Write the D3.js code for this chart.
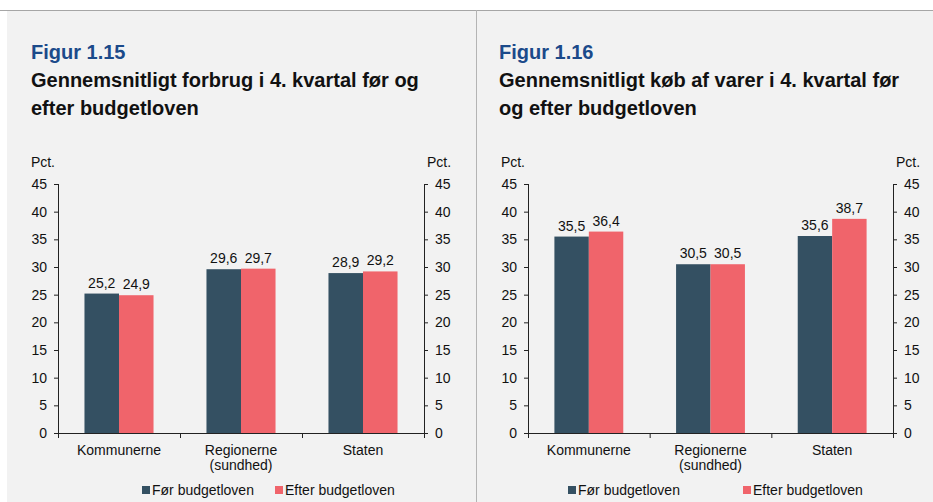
<!DOCTYPE html>
<html>
<head>
<meta charset="utf-8">
<script src="https://cdn.jsdelivr.net/npm/d3@7"></script>
<style>
  html, body { margin: 0; padding: 0; background: #ffffff; }
  svg { display: block; font-family: "Liberation Sans", Arial, sans-serif; }
</style>
</head>
<body>
<svg id="chart" width="933" height="502"></svg>
<script>
// ---- Data ----
const categories = ["Kommunerne", "Regionerne\n(sundhed)", "Staten"];
const seriesNames = ["Før budgetloven", "Efter budgetloven"];
const fig15Before = [25.2, 29.6, 28.9];
const fig15After  = [24.9, 29.7, 29.2];
const fig16Before = [35.5, 30.5, 35.6];
const fig16After  = [36.4, 30.5, 38.7];
const yTicks = [0, 5, 10, 15, 20, 25, 30, 35, 40, 45];
const fig15Label = "Figur 1.15";
const fig15Title = ["Gennemsnitligt forbrug i 4. kvartal før og", "efter budgetloven"];
const fig16Label = "Figur 1.16";
const fig16Title = ["Gennemsnitligt køb af varer i 4. kvartal før", "og efter budgetloven"];
const unitLabel = "Pct.";

// ---- Styles ----
const colors = ["#345062", "#F0646B"];
const svg = d3.select("#chart");

// background panels
svg.append("rect").attr("x", 7).attr("y", 10).attr("width", 926).attr("height", 492).attr("fill", "#f2f2f2");
svg.append("line").attr("x1", 0).attr("x2", 933).attr("y1", 10.5).attr("y2", 10.5).attr("stroke", "#a6a6a6").attr("stroke-width", 1);
svg.append("line").attr("x1", 476.5).attr("x2", 476.5).attr("y1", 10).attr("y2", 502).attr("stroke", "#b4b4b4").attr("stroke-width", 1);

function drawChart(cfg) {
  const g = svg.append("g");
  const x0 = cfg.left, x1 = cfg.right, yBase = 433, yTop = 184;

  // titles
  g.append("text").attr("x", cfg.titleX).attr("y", 59)
    .attr("font-size", 20).attr("font-weight", "bold").attr("fill", "#1b4a8a").text(cfg.label);
  cfg.title.forEach((t, i) => {
    g.append("text").attr("x", cfg.titleX).attr("y", 87 + i * 28)
      .attr("font-size", 20).attr("font-weight", "bold").attr("fill", "#111").text(t);
  });

  const y = d3.scaleLinear().domain([0, 45]).range([yBase, yTop]);
  const xb = d3.scaleBand().domain(categories).range([x0, x1]).padding(0);
  const bw = xb.bandwidth();
  const xs = d3.scaleBand().domain(seriesNames).range([bw * 0.217, bw * 0.783]).padding(0);

  // bars
  const data = categories.map((c, i) => ({ cat: c, vals: [cfg.before[i], cfg.after[i]] }));
  const groups = g.selectAll("g.grp").data(data).join("g").attr("class", "grp")
    .attr("transform", d => `translate(${xb(d.cat)},0)`);
  groups.selectAll("rect").data(d => d.vals.map((v, j) => ({ v, s: seriesNames[j], j })))
    .join("rect")
    .attr("x", d => xs(d.s)).attr("width", xs.bandwidth())
    .attr("y", d => y(d.v)).attr("height", d => y(0) - y(d.v))
    .attr("fill", d => colors[d.j]);
  groups.selectAll("text.val").data(d => d.vals.map((v, j) => ({ v, s: seriesNames[j] })))
    .join("text").attr("class", "val")
    .attr("x", d => xs(d.s) + xs.bandwidth() / 2).attr("y", d => y(d.v) - 6)
    .attr("text-anchor", "middle").attr("font-size", 14).attr("fill", "#111")
    .text(d => d3.format(".1f")(d.v).replace(".", ","));

  // left axis
  const axL = d3.axisLeft(y).tickValues(yTicks).tickSize(4).tickPadding(7).tickFormat(d3.format("d"));
  const gl = g.append("g").attr("transform", `translate(${x0},0)`).call(axL);
  // right axis
  const axR = d3.axisRight(y).tickValues(yTicks).tickSize(4).tickPadding(7).tickFormat(d3.format("d"));
  const gr = g.append("g").attr("transform", `translate(${x1},0)`).call(axR);
  [gl, gr].forEach(a => {
    a.selectAll(".tick line").attr("stroke", "#222");
    a.selectAll(".tick text").attr("font-size", 14).attr("fill", "#111")
      .attr("font-family", "Liberation Sans, Arial, sans-serif");
  });
  gl.select(".domain").remove();
  gr.select(".domain").remove();
  g.append("line").attr("x1", x0 + 0.5).attr("x2", x0 + 0.5).attr("y1", yTop).attr("y2", yBase + 5).attr("stroke", "#222");
  g.append("line").attr("x1", x1 + 0.5).attr("x2", x1 + 0.5).attr("y1", yTop).attr("y2", yBase + 5).attr("stroke", "#222");

  // bottom axis
  const axB = d3.axisBottom(xb).tickSize(0).tickFormat("");
  const gb = g.append("g").attr("transform", `translate(0,${yBase})`).call(axB);
  gb.select(".domain").remove();
  gb.selectAll(".tick").remove();
  const edges = categories.map(c => xb(c)).concat([x1]);
  g.selectAll("line.ctick").data(edges).join("line").attr("class", "ctick")
    .attr("x1", d => d + 0.5).attr("x2", d => d + 0.5).attr("y1", yBase).attr("y2", yBase + 5).attr("stroke", "#222");
  g.append("line").attr("x1", x0).attr("x2", x1 + 1).attr("y1", yBase + 0.5).attr("y2", yBase + 0.5).attr("stroke", "#222");

  // category labels
  categories.forEach(c => {
    const lines = c.split("\n");
    const t = g.append("text").attr("x", xb(c) + bw / 2).attr("y", 455)
      .attr("text-anchor", "middle").attr("font-size", 14).attr("fill", "#111");
    lines.forEach((ln, i) => {
      t.append("tspan").attr("x", xb(c) + bw / 2).attr("y", 455 + i * 15).text(ln);
    });
  });

  // unit labels
  g.append("text").attr("x", x0 - 3).attr("y", 167).attr("text-anchor", "end")
    .attr("font-size", 14).attr("fill", "#111").text(unitLabel);
  g.append("text").attr("x", x1 + 3).attr("y", 167).attr("text-anchor", "start")
    .attr("font-size", 14).attr("fill", "#111").text(unitLabel);

  // legend
  seriesNames.forEach((s, i) => {
    const lx = cfg.legendX[i];
    g.append("rect").attr("x", lx).attr("y", 486).attr("width", 8).attr("height", 8).attr("fill", colors[i]);
    g.append("text").attr("x", lx + 10).attr("y", 495).attr("font-size", 14).attr("fill", "#111").text(s);
  });
}

drawChart({ left: 58, right: 424, titleX: 31, label: fig15Label, title: fig15Title,
  before: fig15Before, after: fig15After, legendX: [142, 275] });
drawChart({ left: 528, right: 893, titleX: 499, label: fig16Label, title: fig16Title,
  before: fig16Before, after: fig16After, legendX: [568, 743] });
</script>
</body>
</html>
